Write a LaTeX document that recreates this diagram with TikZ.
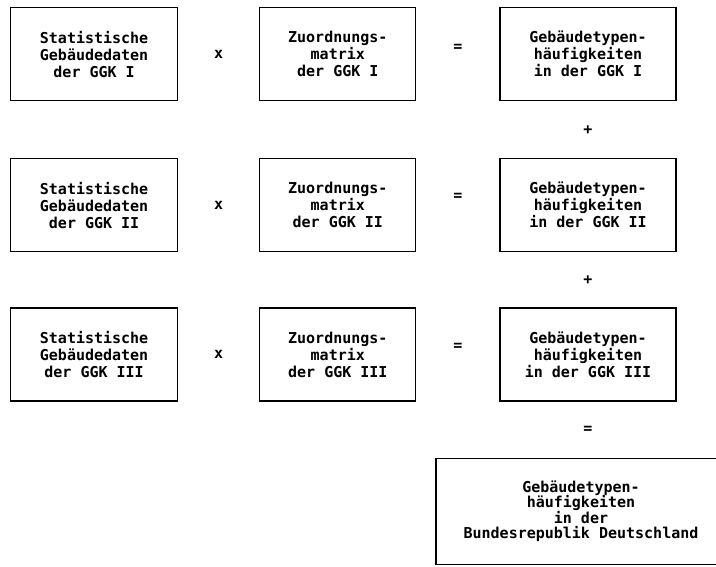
\documentclass[tikz,border=0pt]{standalone}
\usepackage{fontspec}
\usepackage{tikz}
\usetikzlibrary{positioning}
\newfontfamily\printfont{DejaVu Sans Mono}

\begin{document}
\begin{tikzpicture}[x=1pt,y=1pt,
  box/.style={draw,line width=1.2pt,minimum height=93pt,align=center,inner sep=0pt,
    font=\printfont\bfseries\fontsize{15}{17}\selectfont},
  op/.style={font=\printfont\bfseries\fontsize{15}{17}\selectfont}]
\useasboundingbox (0,0) rectangle (716,-567);
% Spalte 1: statistische Gebaeudedaten
\node[box,minimum width=167pt,anchor=north west] (sg1) at (10,-7) {Statistische\\Gebäudedaten\\der GGK I};
\node[box,minimum width=167pt,below=57pt of sg1] (sg2) {Statistische\\Gebäudedaten\\der GGK II};
\node[box,minimum width=167pt,below=55pt of sg2] (sg3) {Statistische\\Gebäudedaten\\der GGK III};
% Spalte 2: Zuordnungsmatrizen
\node[box,minimum width=156pt,right=81pt of sg1] (zm1) {Zuordnungs-\\matrix\\der GGK I};
\node[box,minimum width=156pt,right=81pt of sg2] (zm2) {Zuordnungs-\\matrix\\der GGK II};
\node[box,minimum width=156pt,right=81pt of sg3] (zm3) {Zuordnungs-\\matrix\\der GGK III};
% Spalte 3: Haeufigkeiten
\node[box,minimum width=176pt,right=83pt of zm1] (gh1) {Gebäudetypen-\\häufigkeiten\\in der GGK I};
\node[box,minimum width=176pt,right=83pt of zm2] (gh2) {Gebäudetypen-\\häufigkeiten\\in der GGK II};
\node[box,minimum width=176pt,right=83pt of zm3] (gh3) {Gebäudetypen-\\häufigkeiten\\in der GGK III};
\node[box,minimum width=290pt,minimum height=106pt,font=\printfont\bfseries\fontsize{15}{15.5}\selectfont,
  below=56pt of gh3.south west,anchor=north west,xshift=-64pt] (brd)
  {Gebäudetypen-\\häufigkeiten\\in der\\Bundesrepublik Deutschland};
% Rechenzeichen
\path (sg1) -- (zm1) node[midway,op] {x};
\path (sg2) -- (zm2) node[midway,op] {x};
\path (sg3) -- (zm3) node[midway,op] {x};
\path (zm1) -- (gh1) node[midway,op,yshift=6pt] {=};
\path (zm2) -- (gh2) node[midway,op,yshift=8pt] {=};
\path (zm3) -- (gh3) node[midway,op,yshift=8pt] {=};
\path (gh1) -- (gh2) node[midway,op] {+};
\path (gh2) -- (gh3) node[midway,op] {+};
\path (gh3.south) -- (gh3.south |- brd.north) node[midway,op] {=};
\end{tikzpicture}
\end{document}
